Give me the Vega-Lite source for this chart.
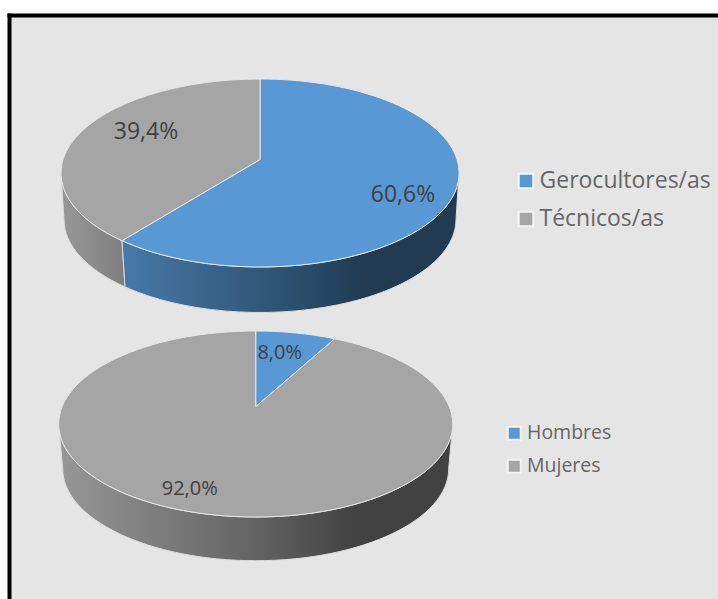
{
"$schema":"https://vega.github.io/schema/vega-lite/v6.json",
"width":708.5,"height":583.5,
"padding":{"left":9.5,"top":15.5,"right":0,"bottom":0},
"autosize":{"type":"none"},
"background":"#ffffff",
"config":{"view":{"fill":"#e5e5e5","stroke":null},"locale":{"number":{"decimal":",","thousands":".","grouping":[3],"currency":["","€"]}},"legend":{"orient":"none","title":null,"symbolType":"square","symbolStrokeColor":"#f4f4f4","symbolStrokeWidth":2,"labelColor":"#666666","labelFont":"Open Sans","labelLimit":400}},
"datasets":{"d":[
{"grupo":"Ocupación","categoria":"Gerocultores/as","sector":"uno","valor":0.606},
{"grupo":"Ocupación","categoria":"Técnicos/as","sector":"dos","valor":0.394},
{"grupo":"Sexo","categoria":"Hombres","sector":"uno","valor":0.08},
{"grupo":"Sexo","categoria":"Mujeres","sector":"dos","valor":0.92}
]},
"data":{"name":"d"},
"encoding":{
"x":{"field":"grupo","type":"nominal","axis":null,"scale":{"type":"point","domain":["Ocupación","Sexo"],"range":[250.5,246.2],"padding":0}},
"y":{"field":"grupo","type":"nominal","axis":null,"scale":{"type":"point","domain":["Ocupación","Sexo"],"range":[144,391.2],"padding":0}}
},
"layer":[
{"transform":[{"filter":"datum.categoria==='Técnicos/as'"}],
 "mark":{"type":"point","filled":true,"opacity":1,"size":4,"stroke":"#dcdcdc","strokeWidth":1,"shape":"M-199,13.5 A199,94 0 0 0 -138,81.2 L-135,127.4 A196,93 0 0 1 -196,60 Z","fill":{"gradient":"linear","x1":0,"y1":0,"x2":1,"y2":0,"stops":[{"offset":0,"color":"#989898"},{"offset":1,"color":"#7e7e7e"}]}}},
{"transform":[{"filter":"datum.categoria==='Gerocultores/as'"}],
 "mark":{"type":"point","filled":true,"opacity":1,"size":4,"stroke":"#dcdcdc","strokeWidth":1,"shape":"M-138,81.2 A199,94 0 0 0 199,13.5 L196,60 A196,93 0 0 1 -135,127.4 Z","fill":{"gradient":"linear","x1":0,"y1":0,"x2":1,"y2":0,"stops":[{"offset":0,"color":"#4779a8"},{"offset":0.45,"color":"#2f5575"},{"offset":0.72,"color":"#203b52"},{"offset":1,"color":"#203b52"}]}}},
{"transform":[{"filter":"datum.categoria==='Mujeres'"}],
 "mark":{"type":"point","filled":true,"opacity":1,"size":4,"stroke":"#dcdcdc","strokeWidth":1,"shape":"M-197,17.3 A197,93 0 0 0 197,17.3 L193,62 A193,92 0 0 1 -193,62 Z","fill":{"gradient":"linear","x1":0,"y1":0,"x2":1,"y2":0,"stops":[{"offset":0,"color":"#979797"},{"offset":0.5,"color":"#636363"},{"offset":0.75,"color":"#424242"},{"offset":1,"color":"#424242"}]}}},
{"transform":[{"filter":"datum.grupo==='Ocupación'"}],
 "mark":{"type":"point","filled":true,"opacity":1,"size":4,"stroke":"#e6e6e6","strokeWidth":1},
 "encoding":{
  "shape":{"field":"sector","type":"nominal","legend":null,"scale":{"domain":["uno","dos"],"range":["M0,0 L0,-80.5 A199,94 0 1 1 -138,81.2 Z","M0,0 L-138,81.2 A199,94 0 0 1 0,-80.5 Z"]}},
  "color":{"field":"categoria","type":"nominal","scale":{"domain":["Gerocultores/as","Técnicos/as"],"range":["#5898d4","#a5a5a5"]},"legend":{"legendX":505,"legendY":154,"labelFontSize":23,"symbolSize":210,"rowPadding":14,"labelOffset":2}}
 }},
{"transform":[{"filter":"datum.grupo==='Sexo'"}],
 "mark":{"type":"point","filled":true,"opacity":1,"size":4,"stroke":"#e6e6e6","strokeWidth":1},
 "encoding":{
  "shape":{"field":"sector","type":"nominal","legend":null,"scale":{"domain":["uno","dos"],"range":["M0,0 L0,-75.7 A197,93 0 0 1 79,-67.9 Z","M0,0 L79,-67.9 A197,93 0 1 1 0,-75.7 Z"]}},
  "color":{"field":"categoria","type":"nominal","scale":{"domain":["Hombres","Mujeres"],"range":["#5898d4","#a5a5a5"]},"legend":{"legendX":495,"legendY":408,"labelFontSize":19.5,"symbolSize":170,"rowPadding":11,"labelOffset":3}}
 }},
{"transform":[{"filter":"datum.categoria==='Gerocultores/as'"}],"mark":{"type":"text","font":"Open Sans","fontSize":23,"fill":"#404040","dx":143,"dy":35},"encoding":{"text":{"field":"valor","format":".1%"}}},
{"transform":[{"filter":"datum.categoria==='Técnicos/as'"}],"mark":{"type":"text","font":"Open Sans","fontSize":23,"fill":"#404040","dx":-114,"dy":-28},"encoding":{"text":{"field":"valor","format":".1%"}}},
{"transform":[{"filter":"datum.categoria==='Hombres'"}],"mark":{"type":"text","font":"Open Sans","fontSize":20,"fill":"#404040","dx":24,"dy":-54},"encoding":{"text":{"field":"valor","format":".1%"}}},
{"transform":[{"filter":"datum.categoria==='Mujeres'"}],"mark":{"type":"text","font":"Open Sans","fontSize":20,"fill":"#404040","dx":-66,"dy":82},"encoding":{"text":{"field":"valor","format":".1%"}}},
{"data":{"values":[{}]},"mark":{"type":"rule","color":"#000000","strokeWidth":4},"encoding":{"x":{"value":0},"y":{"value":-2},"y2":{"value":583.5}}},
{"data":{"values":[{}]},"mark":{"type":"rule","color":"#000000","strokeWidth":4},"encoding":{"x":{"value":-2},"x2":{"value":708.5},"y":{"value":0}}}
],
"resolve":{"scale":{"color":"independent","shape":"independent"}}
}
